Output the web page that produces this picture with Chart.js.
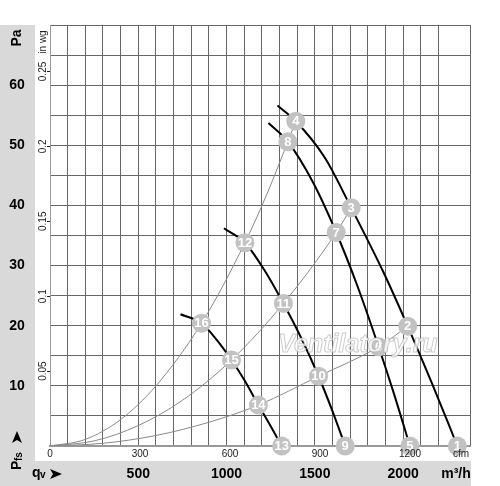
<!DOCTYPE html>
<html>
<head>
<meta charset="utf-8">
<script src="https://cdn.jsdelivr.net/npm/chart.js@4.4.1/dist/chart.umd.min.js"></script>
<style>
  html, body { margin: 0; padding: 0; background: #fff; }
  #wrap { width: 500px; height: 486px; }
</style>
</head>
<body>
<div id="wrap"><canvas id="chart" width="500" height="486"></canvas></div>
<script>
// flow in m3/h, static pressure in Pa
var fan1 = [[1288, 56.6], [1392, 54.0], [1555, 48.0], [1706, 39.6], [1890, 28.8], [2026, 19.9], [2165, 10.3], [2307, 0]];
var fan2 = [[1237, 53.7], [1347, 50.6], [1490, 43.8], [1621, 35.5], [1741, 26.6], [1861, 16.5], [1950, 8.5], [2038, 0]];
var fan3 = [[985, 36.2], [1104, 33.8], [1213, 29.3], [1322, 23.7], [1422, 18.0], [1521, 11.6], [1597, 6.0], [1672, 0]];
var fan4 = [[739, 21.9], [858, 20.4], [943, 17.7], [1028, 14.3], [1104, 10.8], [1180, 6.8], [1246, 3.5], [1312, 0]];

// system curves
var sys1 = [[0, 0], [200, 1.1], [400, 4.4], [600, 10.0], [858, 20.4], [1104, 33.8], [1230, 42.0], [1347, 50.6], [1392, 54.0]];
var sys2 = [[0, 0], [250, 0.85], [500, 3.4], [750, 7.6], [1028, 14.3], [1322, 23.7], [1621, 35.5], [1706, 39.6]];
var sys3 = [[0, 0], [300, 0.45], [600, 1.75], [900, 3.95], [1180, 6.8], [1521, 11.6], [1861, 16.5], [2026, 19.9]];

// numbered operating points
var pointNums = [1, 2, 3, 4, 5, 6, 7, 8, 9, 10, 11, 12, 13, 14, 15, 16];
var pointFlow = [2307, 2026, 1706, 1392, 2038, 1861, 1621, 1347, 1672, 1521, 1322, 1104, 1312, 1180, 1028, 858];
var pointPa   = [0, 19.9, 39.6, 54.0, 0, 16.5, 35.5, 50.6, 0, 11.6, 23.7, 33.8, 0, 6.8, 14.3, 20.4];

// axis labels
var paTicks = [10, 20, 30, 40, 50, 60];
var inwgTicks = [0.05, 0.1, 0.15, 0.2, 0.25];
var cfmTicks = [0, 300, 600, 900, 1200];
var m3hTicks = [500, 1000, 1500, 2000];

var CFM = 1.699;       // m3/h per cfm
var INWG = 249.09;     // Pa per in wg
var cfmMax = 1400;
var paMax = 70;

function toXY(arr) {
  return arr.map(function(p) { return {x: p[0], y: p[1]}; });
}

var markers = pointFlow.map(function(f, i) { return {x: f, y: pointPa[i]}; });

function curve(data, color, width, order) {
  return {
    data: toXY(data),
    borderColor: color,
    borderWidth: width,
    pointRadius: 0,
    fill: false,
    order: order,
    cubicInterpolationMode: 'monotone'
  };
}

function arrow(ctx, x, y, ang) {
  ctx.save();
  ctx.translate(x, y);
  ctx.rotate(ang);
  ctx.fillStyle = '#000';
  ctx.beginPath();
  ctx.moveTo(6, 0);
  ctx.lineTo(-6, -5);
  ctx.lineTo(-3, 0);
  ctx.lineTo(-6, 5);
  ctx.closePath();
  ctx.fill();
  ctx.restore();
}

var drawPlugin = {
  id: 'drawPlugin',
  beforeDraw: function(chart) {
    var ctx = chart.ctx, a = chart.chartArea;
    ctx.save();
    ctx.fillStyle = '#fff';
    ctx.fillRect(0, 0, chart.width, chart.height);
    ctx.fillStyle = '#d9d9d9';
    ctx.fillRect(0, a.top, 35, chart.height - a.top);
    ctx.fillRect(0, a.bottom + 15, a.right + 1, chart.height - a.bottom - 15);
    ctx.restore();
  },
  afterDatasetsDraw: function(chart) {
    var ctx = chart.ctx;
    var meta = chart.getDatasetMeta(7);
    ctx.save();
    ctx.fillStyle = '#fff';
    ctx.font = 'bold 13px "Liberation Sans", Arial, sans-serif';
    ctx.textAlign = 'center';
    ctx.textBaseline = 'middle';
    meta.data.forEach(function(el, i) {
      ctx.fillText(String(pointNums[i]), el.x, el.y + 0.5);
    });
    ctx.restore();
  },
  afterDraw: function(chart) {
    var ctx = chart.ctx, a = chart.chartArea;
    var xs = chart.scales.x, ys = chart.scales.y;
    var xc = chart.scales.xc, yw = chart.scales.yw;
    ctx.save();
    ctx.fillStyle = '#000';

    // Pa labels
    ctx.font = 'bold 14px "Liberation Sans", Arial, sans-serif';
    ctx.textAlign = 'center';
    ctx.textBaseline = 'middle';
    paTicks.forEach(function(v) {
      ctx.fillText(String(v), 17, ys.getPixelForValue(v));
    });
    ctx.save();
    ctx.translate(17, 38);
    ctx.rotate(-Math.PI / 2);
    ctx.fillText('Pa', 0, 0);
    ctx.restore();

    // in wg labels
    ctx.fillStyle = '#222';
    ctx.font = '10px "Liberation Sans", Arial, sans-serif';
    inwgTicks.forEach(function(v) {
      var y = yw.getPixelForValue(v);
      ctx.save();
      ctx.translate(43, y);
      ctx.rotate(-Math.PI / 2);
      ctx.fillText(String(v), 0, 0);
      ctx.restore();
      ctx.fillRect(a.left - 3, Math.round(y), 3, 1);
    });
    ctx.save();
    ctx.translate(43, 42);
    ctx.rotate(-Math.PI / 2);
    ctx.fillText('in wg', 0, 0);
    ctx.restore();

    // cfm labels
    cfmTicks.forEach(function(v) {
      ctx.fillText(String(v), xc.getPixelForValue(v), a.bottom + 8);
    });
    ctx.fillText('cfm', a.right - 9, a.bottom + 8);

    // m3/h labels
    ctx.fillStyle = '#000';
    ctx.font = 'bold 14px "Liberation Sans", Arial, sans-serif';
    var yb = a.bottom + 28;
    m3hTicks.forEach(function(v) {
      ctx.fillText(String(v), xs.getPixelForValue(v), yb);
    });
    ctx.fillText('m\u00b3/h', a.right - 14, yb);

    // qv arrow
    ctx.textAlign = 'left';
    ctx.font = 'bold 14px "Liberation Sans", Arial, sans-serif';
    ctx.fillText('q', 32, yb - 1);
    ctx.font = 'bold 10px "Liberation Sans", Arial, sans-serif';
    ctx.fillText('v', 40, yb + 1);
    arrow(ctx, 56, yb, 0);

    // Pfs arrow
    ctx.save();
    ctx.translate(17, 470);
    ctx.rotate(-Math.PI / 2);
    ctx.font = 'bold 14px "Liberation Sans", Arial, sans-serif';
    ctx.fillText('P', 0, 0);
    ctx.font = 'bold 10px "Liberation Sans", Arial, sans-serif';
    ctx.fillText('fs', 9, 2);
    ctx.restore();
    arrow(ctx, 17, 437, -Math.PI / 2);

    // watermark
    ctx.font = 'italic bold 25px "Liberation Sans", Arial, sans-serif';
    ctx.textAlign = 'center';
    ctx.textBaseline = 'middle';
    ctx.fillStyle = 'rgba(255,255,255,0.8)';
    ctx.strokeStyle = 'rgba(170,170,170,0.6)';
    ctx.lineWidth = 1;
    ctx.fillText('Ventilatory.ru', 358, 345);
    ctx.strokeText('Ventilatory.ru', 358, 345);
    ctx.restore();
  }
};

var ctx = document.getElementById('chart').getContext('2d');
var chart = new Chart(ctx, {
  type: 'line',
  data: {
    datasets: [
      curve(sys1, '#8a8a8a', 1, 3),
      curve(sys2, '#8a8a8a', 1, 3),
      curve(sys3, '#8a8a8a', 1, 3),
      curve(fan1, '#000', 2, 2),
      curve(fan2, '#000', 2, 2),
      curve(fan3, '#000', 2, 2),
      curve(fan4, '#000', 2, 2),
      {
        data: markers,
        showLine: false,
        pointRadius: 9.5,
        pointBackgroundColor: '#c2c2c2',
        pointBorderWidth: 0,
        order: 1,
        clip: false
      }
    ]
  },
  options: {
    responsive: false,
    animation: false,
    events: [],
    layout: { padding: { left: 50, top: 25, right: 30, bottom: 40 } },
    plugins: { legend: { display: false }, tooltip: { enabled: false } },
    scales: {
      x: {
        type: 'linear',
        min: 0,
        max: cfmMax * CFM,
        ticks: { display: false, stepSize: 100 },
        grid: { color: '#666', lineWidth: 1, drawTicks: false },
        border: { color: '#999', width: 2 }
      },
      y: {
        type: 'linear',
        min: 0,
        max: paMax,
        ticks: { display: false, stepSize: 5 },
        grid: { color: '#666', lineWidth: 1, drawTicks: false },
        border: { color: '#999', width: 1 }
      },
      xc: {
        type: 'linear', display: false, position: 'bottom',
        min: 0, max: cfmMax
      },
      yw: {
        type: 'linear', display: false, position: 'left',
        min: 0, max: paMax / INWG
      }
    }
  },
  plugins: [drawPlugin]
});
</script>
</body>
</html>
